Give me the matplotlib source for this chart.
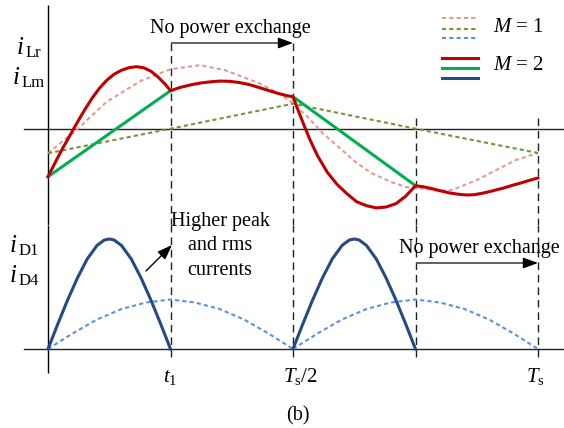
import matplotlib.pyplot as plt
import numpy as np

plt.rcParams['font.family'] = ['Liberation Serif', 'DejaVu Serif']
plt.rcParams['mathtext.fontset'] = 'custom'
plt.rcParams['mathtext.rm'] = 'Liberation Serif'
plt.rcParams['mathtext.it'] = 'Liberation Serif:italic'

# time in units of Ts, currents in arbitrary units
# M = 1 (dotted)
t_lr1 = [0, 0.061, 0.12, 0.19, 0.25, 0.31, 0.36, 0.43, 0.47, 0.5, 0.53, 0.56,
         0.6, 0.63, 0.66, 0.7, 0.73, 0.755, 0.795, 0.825, 0.875, 0.915, 0.955, 1.0]
i_lr1 = [-24.6, 0, 27, 48, 59.5, 63.5, 58.7, 45.7, 35.7, 25.5, 11.7, -4.3,
         -21.3, -34.3, -44.3, -53.3, -58.3, -59.3, -62, -61.3, -51.3, -41.3, -31.3, -24.3]
t_lm1 = [0, 0.25, 0.5, 0.75, 1.0]
i_lm1 = [-24.6, 0, 25, 0, -24.3]
t_d1 = [0, 0.05, 0.1, 0.15, 0.2, 0.25, 0.3, 0.35, 0.4, 0.45, 0.5]
i_d1 = [0, 15.5, 29.5, 40, 46.5, 49.5, 46.5, 40, 29.5, 15.5, 0]

# M = 2 (solid)
t_lr2 = [0, 0.015, 0.03, 0.045, 0.06, 0.075, 0.09, 0.105, 0.12, 0.135, 0.15, 0.165,
         0.18, 0.195, 0.21, 0.225, 0.24, 0.25,
         0.27, 0.29, 0.31, 0.33, 0.35, 0.37, 0.39, 0.41, 0.43, 0.45, 0.47, 0.49, 0.5,
         0.51, 0.52, 0.535, 0.55, 0.57, 0.59, 0.61, 0.63, 0.65, 0.67, 0.69, 0.71, 0.73, 0.75,
         0.765, 0.78, 0.80, 0.82, 0.84, 0.855, 0.87, 0.89, 0.91, 0.93, 0.95, 0.965, 0.98, 1.0]
i_lr2 = [-48, -33.5, -19.5, -6.5, 6.5, 19, 30.5, 40.5, 48.5, 54.5, 58.5, 61,
         62, 61, 57.5, 51.5, 44, 38,
         41.3, 43.7, 45.6, 46.8, 47.6, 47.4, 46.2, 44.2, 41.3, 38.2, 35.2, 32.8, 32,
         19, 6.5, -11.5, -27, -43.6, -55.7, -65, -73.1, -77, -79.2, -78.3, -75, -67.5, -57,
         -58, -59.5, -62, -64.3, -65.7, -66.3, -66, -64.2, -61.8, -59.3, -56.3, -54.3, -52, -49.3]
t_lm2 = [0, 0.25, 0.5, 0.75, 1.0]
i_lm2 = [-48, 38, 32, -57, -49.3]
t_d2 = [0, 0.02, 0.04, 0.06, 0.08, 0.1, 0.115, 0.125, 0.135, 0.15, 0.17, 0.19, 0.21, 0.23, 0.25]
i_d2 = [0, 25, 49, 71, 90, 103.5, 109, 110, 109, 103.5, 90, 71, 49, 25, 0]

marks = [0.25, 0.5, 0.75, 1.0]

c_red, c_green, c_blue = '#C00000', '#00B050', '#254A84'
c_pink, c_olive, c_lblue = '#E39A93', '#77933C', '#5E90DD'
dot = (0, (2, 1.5))
dash = (0, (5.5, 3.5))

fig = plt.figure(figsize=(5.64, 4.28), dpi=100)
xl = (-48 / 490, 516 / 490)
ax1 = fig.add_axes([0, 203 / 428, 1, 225 / 428])
ax2 = fig.add_axes([0, 0, 1, 203 / 428])
ax1.set_xlim(*xl)
ax1.set_ylim(-96.3, 128.7)
ax2.set_xlim(*xl)
ax2.set_ylim(-79, 124)
for ax in (ax1, ax2):
    ax.set_axis_off()
    ax.plot([-24 / 490, xl[1]], [0, 0], color='#222222', lw=1.0, zorder=1)

# axes lines
ax1.plot([0, 0], [123.7, -96.3], color='black', lw=1.0, solid_capstyle='butt')
ax2.plot([0, 0], [124, -24], color='black', lw=1.0, solid_capstyle='butt')

# dashed time markers
ax1.vlines(marks, [85.7, 85.7, 10.7, 10.7], -96.3, colors='#222222', lw=1.0, linestyles=[dash])
ax2.vlines(marks, -8, 124, colors='#222222', lw=1.0, linestyles=[dash])

# upper waveforms
ax1.plot(t_lr1, i_lr1, color=c_pink, lw=1.5, ls=dot, zorder=2)
ax1.plot(t_lm1, i_lm1, color=c_olive, lw=1.5, ls=dot, zorder=2)
ax1.plot(t_lm2[0:2], i_lm2[0:2], color=c_green, lw=2.2, zorder=3)
ax1.plot(t_lm2[2:4], i_lm2[2:4], color=c_green, lw=2.2, zorder=3)
ax1.plot(t_lr2, i_lr2, color=c_red, lw=2.2, zorder=4)

# lower waveforms
for k in (0, 0.5):
    ax2.plot(np.array(t_d1) + k, i_d1, color=c_lblue, lw=1.5, ls=dot, zorder=2)
    ax2.plot(np.array(t_d2) + k, i_d2, color=c_blue, lw=2.2, zorder=4)

fs = 14.5
aprops = dict(arrowstyle='-|>,head_length=0.6,head_width=0.22', color='black',
              lw=1.0, mutation_scale=15, shrinkA=0, shrinkB=0)


def power_arrow(ax, x0, x1, y):
    ax.plot([x0, x1 - 0.02], [y, y], color='#555555', lw=1.3, solid_capstyle='butt')
    ax.annotate('', xy=(x1, y), xytext=(x1 - 0.03, y), arrowprops=aprops)


power_arrow(ax1, 0.25, 0.5, 85.7)
ax1.text(0.208, 95.4, 'No power exchange', fontsize=fs, ha='left', va='baseline')
power_arrow(ax2, 0.75, 1.0, 86)
ax2.text(0.716, 96, 'No power exchange', fontsize=fs, ha='left', va='baseline')

for y, s in zip([123, 99, 74], ['Higher peak', 'and rms', 'currents']):
    ax2.text(0.351, y, s, fontsize=fs, ha='center', va='baseline')
ax2.annotate('', xy=(0.253, 104), xytext=(0.2, 78), arrowprops=aprops)


# signal labels: italic i with upright subscript
def sig_label(ax, x, y, sub):
    ax.text(x, y, 'i', fontsize=18, style='italic', ha='left', va='baseline')
    ax.text(x + 8.5 / 490, y - 3, sub, fontsize=12, ha='left', va='baseline')


sig_label(ax1, -0.0633, 74.4, 'Lr')
sig_label(ax1, -0.0714, 44.7, 'Lm')
sig_label(ax2, -0.0776, 96.7, 'D1')
sig_label(ax2, -0.0776, 67.3, 'D4')

# time labels
ax2.text(0.25, -32.7, r'$t_1$', fontsize=15, ha='center', va='baseline')
ax2.text(0.516, -32.7, r'$T_{\mathrm{s}}/2$', fontsize=15, ha='center', va='baseline')
ax2.text(0.994, -32.7, r'$T_{\mathrm{s}}$', fontsize=15, ha='center', va='baseline')
ax2.text(0.51, -71, '(b)', fontsize=fs, ha='center', va='baseline')

# legend
lx = [0.804, 0.878]
for y, c in zip([110.7, 100.0, 90.4], [c_pink, c_olive, c_lblue]):
    ax1.plot(lx, [y, y], color=c, lw=1.5, ls=dot)
for y, c in zip([70.4, 60.4, 51.0], [c_red, c_green, c_blue]):
    ax1.plot(lx, [y, y], color=c, lw=2.2)
ax1.text(0.908, 100.7, r'$M$ = 1', fontsize=15, ha='left', va='center')
ax1.text(0.908, 62.7, r'$M$ = 2', fontsize=15, ha='left', va='center')

fig.savefig('out.png', dpi=100, facecolor='white')
